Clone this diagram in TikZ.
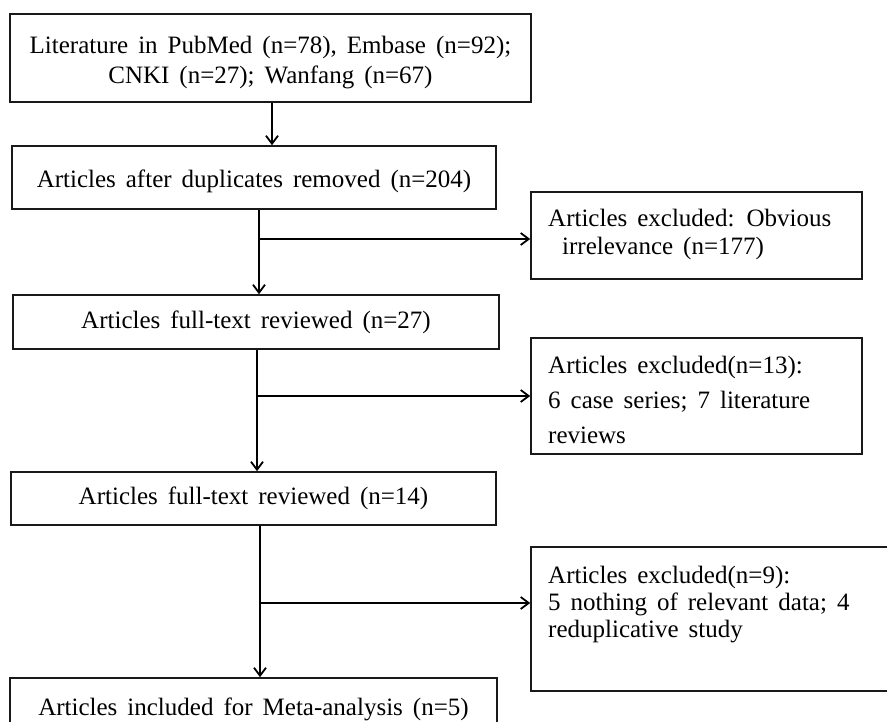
\documentclass[tikz,border=0pt]{standalone}
\usepackage{fontspec}
\setmainfont{Liberation Serif}
\usetikzlibrary{arrows.meta}
\newcommand{\bfnt}{\fontsize{25}{30}\selectfont\spaceskip=0.4em plus 0.1em minus 0.05em\relax}
\newcommand{\rfntA}{\fontsize{25}{28}\selectfont\spaceskip=0.4em plus 0.1em minus 0.05em\relax}
\newcommand{\rfntB}{\fontsize{25}{35}\selectfont\spaceskip=0.4em plus 0.1em minus 0.05em\relax}
\newcommand{\rfntC}{\fontsize{25}{27}\selectfont\spaceskip=0.4em plus 0.1em minus 0.05em\relax}
\newcommand{\indentA}{\kern14pt}
\newcommand{\lift}[1]{\rule{0pt}{#1}}
\tikzset{
  box/.style={draw=black!90, line width=1.6pt, inner sep=0pt, align=center, font=\bfnt},
  rtext/.style={inner sep=0pt, align=left, anchor=west},
  conn/.style={draw=black, line width=1.9pt},
  arr/.style={conn, -{Straight Barb[length=8pt,width=12pt,line width=1.8pt]}}
}
\begin{document}
\begin{tikzpicture}[x=1pt,y=-1pt]
\useasboundingbox (0,0) rectangle (887,721);
\fill[white] (0,0) rectangle (887,721);
\clip (0,0) rectangle (887,721);
% main column
\node[box, minimum width=521pt, minimum height=88pt] (b1) at (270.5,58)
  {\lift{27pt}Literature  in PubMed (n=78), Embase (n=92);\\CNKI (n=27); Wanfang  (n=67)};
\node[box, minimum width=484pt, minimum height=63pt] (b2) at (254,177.5)
  {\lift{26pt}Articles  after duplicates  removed  (n=204)};
\node[box, minimum width=486pt, minimum height=54pt] (b3) at (256,322)
  {Articles  full-text  reviewed  (n=27)};
\node[box, minimum width=485pt, minimum height=53pt] (b4) at (253.5,498.5)
  {Articles  full-text  reviewed  (n=14)};
\node[box, minimum width=487pt, minimum height=55pt] (b5) at (253.5,705.5)
  {\lift{26pt}Articles  included  for Meta-analysis  (n=5)};
% right column boxes
\node[box, minimum width=331pt, minimum height=87pt] (r1) at (696.5,235.5) {};
\node[box, minimum width=331pt, minimum height=116pt] (r2) at (696.5,396) {};
\node[box, minimum width=380pt, minimum height=144pt] (r3) at (721,619) {};
\node[rtext, font=\rfntA] (r1t) at (548,234)
  {Articles  excluded:  Obvious\\\indentA irrelevance  (n=177)};
\node[rtext, font=\rfntB] (r2t) at (548,400)
  {Articles  excluded(n=13):\\6 case series; 7 literature\\reviews};
\node[rtext, font=\rfntC] (r3t) at (548,605)
  {Articles  excluded(n=9):\\5 nothing  of relevant  data; 4\\reduplicative  study};
% connector x-positions and junctions
\coordinate (a1) at (272,0);
\coordinate (j1) at (259,239);
\coordinate (j2) at (257,396);
\coordinate (j3) at (260,603);
% connectors
\draw[arr] (b1.south -| a1) -- (b2.north -| a1);
\draw[arr] (b2.south -| j1) -- (b3.north -| j1);
\draw[arr] (j1) -- (j1 -| r1.west);
\draw[arr] (b3.south -| j2) -- (b4.north -| j2);
\draw[arr] (j2) -- (j2 -| r2.west);
\draw[arr] (b4.south -| j3) -- (b5.north -| j3);
\draw[arr] (j3) -- (j3 -| r3.west);
\end{tikzpicture}
\end{document}
